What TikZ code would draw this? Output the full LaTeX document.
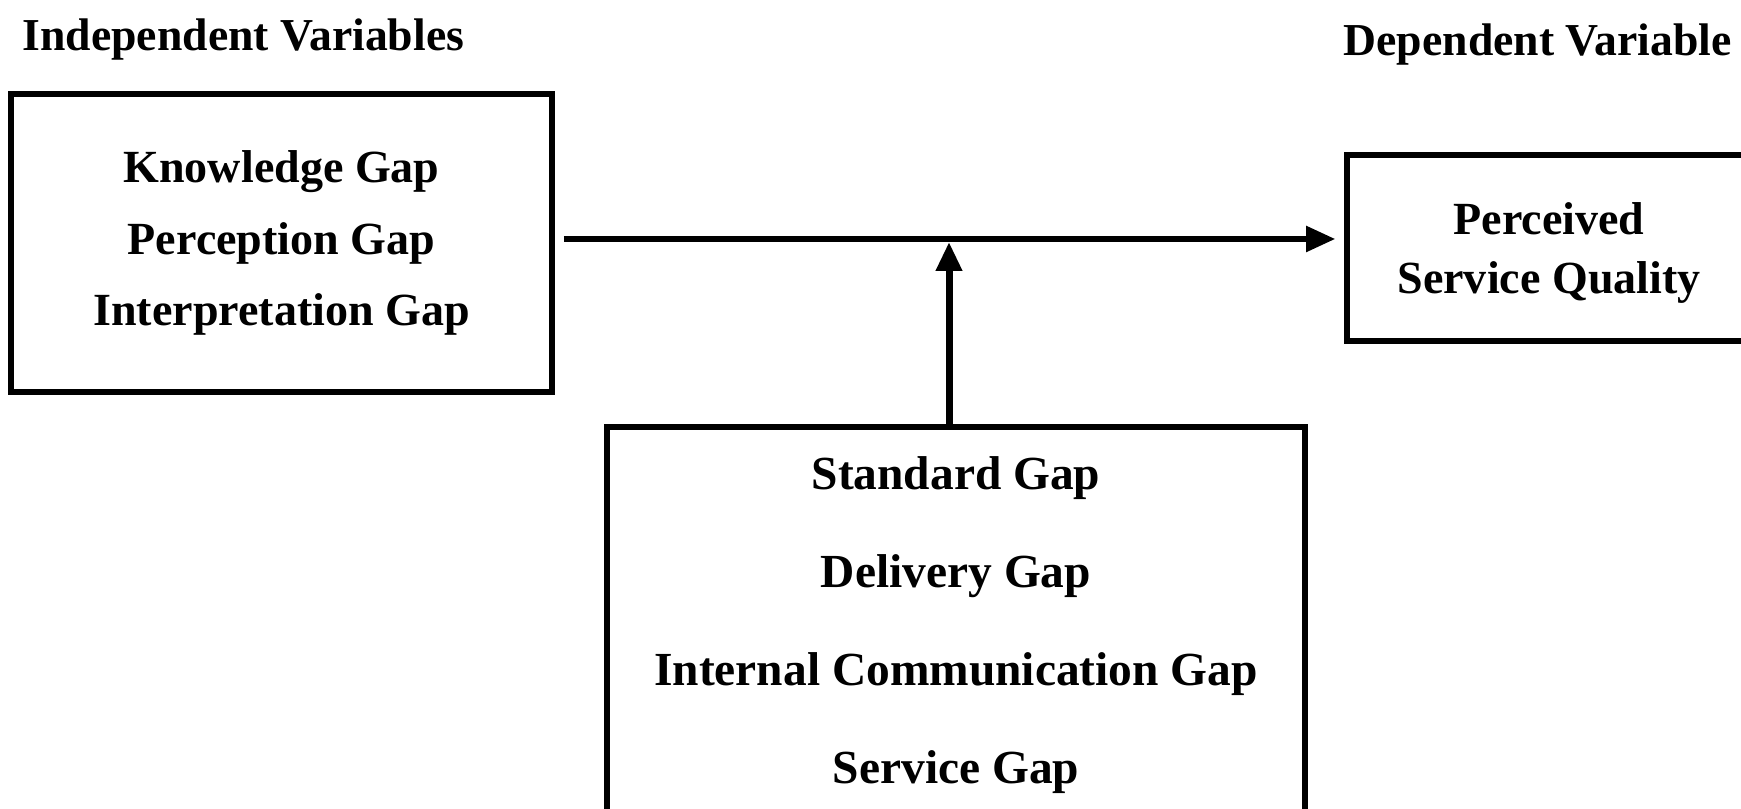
\documentclass[tikz,border=0pt]{standalone}
\usepackage{fontspec}
\setmainfont{Liberation Serif}
\usetikzlibrary{arrows.meta, positioning}
\tikzset{
>={Triangle[width=0.25cm, length=0.29cm]}, % solid arrow heads
gapbox/.style={draw, line width=1.6pt, rectangle, align=center, font=\bfseries\fontsize{13.1}{16.6}\selectfont}, % boxes of variables
header/.style={anchor=west, inner sep=0pt, font=\bfseries\fontsize{13}{15}\selectfont}, % column titles
flow/.style={->, line width=1.5pt}, % connectors
}
\begin{document}
\begin{tikzpicture}
    \useasboundingbox (0,0) rectangle (17.41,8.09);
    \clip (0,0) rectangle (17.41,8.09);

    \node[header] (indep) at (0.22,7.69) {Independent Variables};
    \node[header] (dep) at (13.43,7.64) {Dependent Variable};

    \node[gapbox, minimum width=5.41cm, minimum height=2.98cm] (lbox) at (2.815,5.66)
        {Knowledge Gap\\[3.8pt] Perception Gap\\[3.8pt] Interpretation Gap};
    \node[gapbox, text depth=0pt, minimum width=4.04cm, minimum height=1.86cm] (rbox) at (15.49,5.61)
        {Perceived\\ Service Quality};
    \node[gapbox, text depth=0pt, font=\bfseries\fontsize{13.5}{16}\selectfont,
        minimum width=6.98cm, minimum height=3.86cm] (bbox) at (9.56,1.89)
        {Standard Gap\\[11.8pt] Delivery Gap\\[11.8pt] Internal Communication Gap\\[11.8pt] Service Gap};

    \coordinate (j) at (9.49,5.70);

    \draw[flow, shorten <=0.09cm, shorten >=0.09cm]
    (lbox.east |- j) -- (rbox.west |- j);

    \draw[flow, line width=2pt, shorten >=0.03cm]
    (bbox.north -| j) -- (j);
\end{tikzpicture}
\end{document}
